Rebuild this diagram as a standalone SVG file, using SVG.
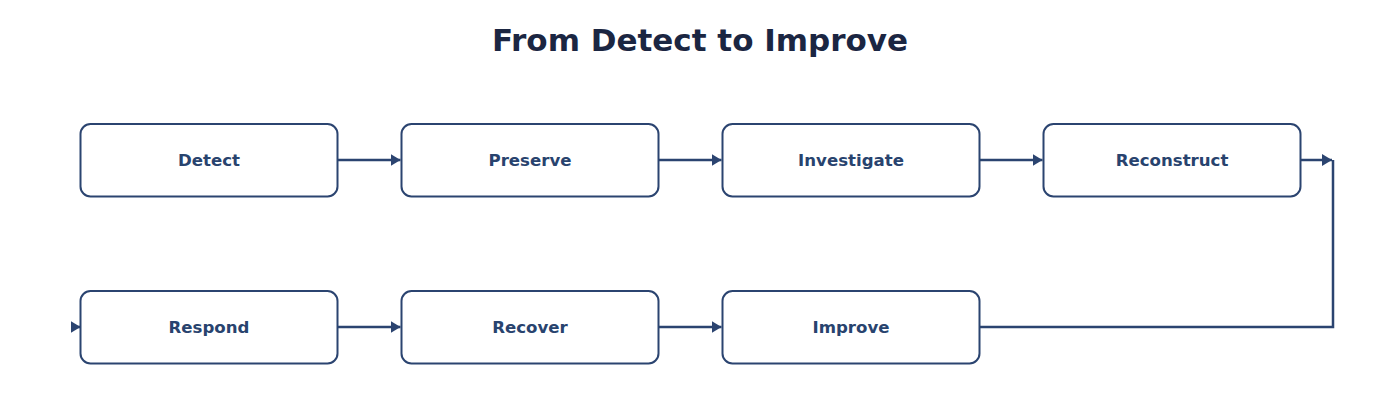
<svg xmlns="http://www.w3.org/2000/svg" width="1400" height="420" viewBox="0 0 1400 420">
<defs>
<style>
.node rect{fill:#ffffff;stroke:#2b4470;stroke-width:2}
.node text{font-family:"DejaVu Sans",sans-serif;font-weight:bold;font-size:16.6px;fill:#28436e;text-anchor:middle;dominant-baseline:central}
.title{font-family:"DejaVu Sans",sans-serif;font-weight:bold;font-size:31px;fill:#1b2642;text-anchor:middle}
.edge{fill:none;stroke:#2b4470;stroke-width:2.5}
</style>
<marker id="arr" viewBox="0 0 10 12" refX="10" refY="6" markerWidth="10" markerHeight="12" markerUnits="userSpaceOnUse" orient="auto">
<path d="M0,0 L10,6 L0,12 Z" fill="#2b4470"/>
</marker>
</defs>
<rect width="1400" height="420" fill="#ffffff"/>
<text class="title" x="700" y="51">From Detect to Improve</text>
<g id="connectors">
<line class="edge" x1="337.5" y1="160" x2="400.5" y2="160" marker-end="url(#arr)"/>
<line class="edge" x1="658.5" y1="160" x2="721.5" y2="160" marker-end="url(#arr)"/>
<line class="edge" x1="979.5" y1="160" x2="1042.5" y2="160" marker-end="url(#arr)"/>
<line class="edge" x1="1300.5" y1="160" x2="1332" y2="160" marker-end="url(#arr)"/>
<polyline class="edge" points="979.5,327 1333,327 1333,160"/>
<line class="edge" x1="72" y1="327" x2="80.5" y2="327" stroke-width="0" marker-end="url(#arr)"/>
<line class="edge" x1="337.5" y1="327" x2="400.5" y2="327" marker-end="url(#arr)"/>
<line class="edge" x1="658.5" y1="327" x2="721.5" y2="327" marker-end="url(#arr)"/>
</g>
<g id="n-detect" class="node"><rect x="80.5" y="124" width="257" height="72.5" rx="10"/><text x="209" y="160">Detect</text></g>
<g id="n-preserve" class="node"><rect x="401.5" y="124" width="257" height="72.5" rx="10"/><text x="530" y="160">Preserve</text></g>
<g id="n-investigate" class="node"><rect x="722.5" y="124" width="257" height="72.5" rx="10"/><text x="851" y="160">Investigate</text></g>
<g id="n-reconstruct" class="node"><rect x="1043.5" y="124" width="257" height="72.5" rx="10"/><text x="1172" y="160">Reconstruct</text></g>
<g id="n-respond" class="node"><rect x="80.5" y="291" width="257" height="72.5" rx="10"/><text x="209" y="327">Respond</text></g>
<g id="n-recover" class="node"><rect x="401.5" y="291" width="257" height="72.5" rx="10"/><text x="530" y="327">Recover</text></g>
<g id="n-improve" class="node"><rect x="722.5" y="291" width="257" height="72.5" rx="10"/><text x="851" y="327">Improve</text></g>
</svg>
